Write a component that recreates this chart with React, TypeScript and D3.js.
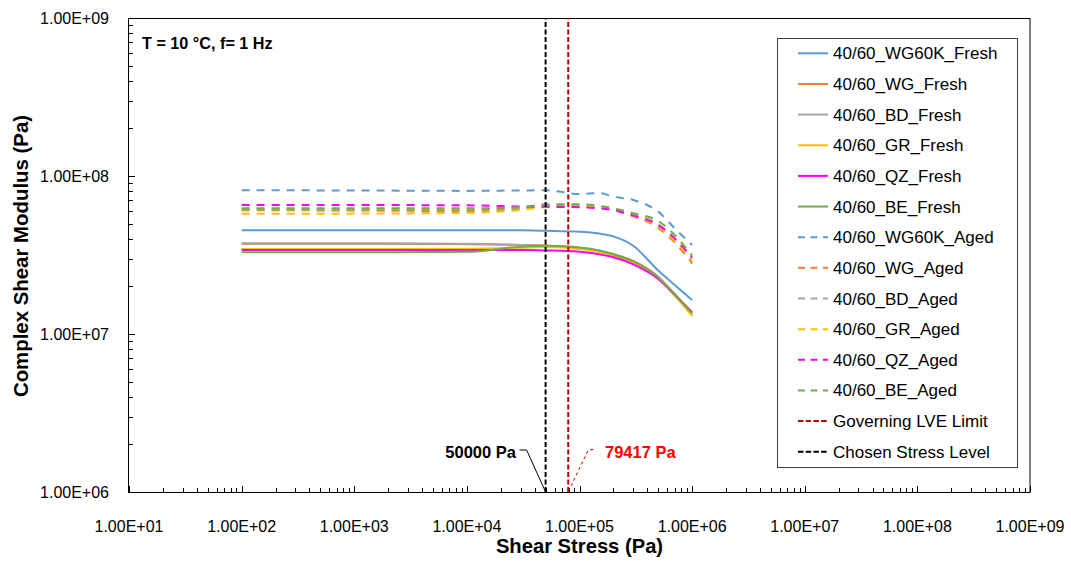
import React from "react";
import * as d3 from "d3";

const stress = [100, 1000, 10000, 30000, 50000, 100000, 150000, 200000, 300000, 500000, 700000, 1000000];

const wg60kFresh = [4.53e7, 4.53e7, 4.53e7, 4.53e7, 4.5e7, 4.44e7, 4.32e7, 4.15e7, 3.62e7, 2.52e7, 2.04e7, 1.64e7];
const wgFresh = [3.73e7, 3.73e7, 3.7e7, 3.66e7, 3.63e7, 3.52e7, 3.36e7, 3.2e7, 2.9e7, 2.3e7, 1.78e7, 1.32e7];
const bdFresh = [3.75e7, 3.75e7, 3.72e7, 3.66e7, 3.61e7, 3.49e7, 3.33e7, 3.16e7, 2.87e7, 2.29e7, 1.79e7, 1.36e7];
const grFresh = [3.45e7, 3.45e7, 3.47e7, 3.52e7, 3.55e7, 3.45e7, 3.3e7, 3.12e7, 2.82e7, 2.25e7, 1.75e7, 1.3e7];
const qzFresh = [3.4e7, 3.4e7, 3.4e7, 3.4e7, 3.38e7, 3.32e7, 3.2e7, 3.06e7, 2.76e7, 2.23e7, 1.77e7, 1.37e7];
const beFresh = [3.29e7, 3.29e7, 3.31e7, 3.57e7, 3.62e7, 3.53e7, 3.38e7, 3.2e7, 2.88e7, 2.28e7, 1.78e7, 1.35e7];

const wg60kAged = [8.12e7, 8.1e7, 8.05e7, 8.1e7, 8.12e7, 7.7e7, 7.78e7, 7.4e7, 7.05e7, 5.95e7, 4.67e7, 3.66e7];
const wgAged = [6.07e7, 6.05e7, 6.0e7, 6.2e7, 6.4e7, 6.4e7, 6.3e7, 6.1e7, 5.55e7, 4.7e7, 3.8e7, 2.8e7];
const bdAged = [6.15e7, 6.15e7, 6.15e7, 6.3e7, 6.5e7, 6.48e7, 6.38e7, 6.18e7, 5.7e7, 4.95e7, 4.0e7, 3.0e7];
const grAged = [5.77e7, 5.78e7, 5.85e7, 6.1e7, 6.35e7, 6.4e7, 6.3e7, 6.1e7, 5.58e7, 4.8e7, 3.9e7, 2.9e7];
const qzAged = [6.55e7, 6.55e7, 6.52e7, 6.42e7, 6.39e7, 6.34e7, 6.24e7, 6.09e7, 5.61e7, 4.9e7, 4.03e7, 3.05e7];
const beAged = [6.24e7, 6.24e7, 6.24e7, 6.34e7, 6.62e7, 6.62e7, 6.46e7, 6.24e7, 5.81e7, 5.19e7, 4.23e7, 3.12e7];

const seriesNames = [
  "40/60_WG60K_Fresh", "40/60_WG_Fresh", "40/60_BD_Fresh", "40/60_GR_Fresh", "40/60_QZ_Fresh", "40/60_BE_Fresh",
  "40/60_WG60K_Aged", "40/60_WG_Aged", "40/60_BD_Aged", "40/60_GR_Aged", "40/60_QZ_Aged", "40/60_BE_Aged",
];
const seriesValues = [wg60kFresh, wgFresh, bdFresh, grFresh, qzFresh, beFresh, wg60kAged, wgAged, bdAged, grAged, qzAged, beAged];
const seriesColors = ["#5B9BD5", "#ED7D31", "#A5A5A5", "#FFC000", "#FF00FF", "#70AD47", "#5B9BD5", "#ED7D31", "#A5A5A5", "#FFC000", "#FF00FF", "#70AD47"];

const lveLimit = 79417;
const chosenStress = 50000;
const limitNames = ["Governing LVE Limit", "Chosen Stress Level"];
const limitColors = ["#C00000", "#000000"];

const xDomain = [1e1, 1e9];
const yDomain = [1e6, 1e9];

const FONT = "'Liberation Sans', Arial, sans-serif";

const fmtExp = (v: number) => {
  const e = Math.round(Math.log10(v));
  return `1.00E${e >= 0 ? "+" : "-"}${String(Math.abs(e)).padStart(2, "0")}`;
};

export default function App() {
  const left = 129, right = 1030, top = 18, bottom = 492;
  const x = d3.scaleLog().domain(xDomain).range([left, right]);
  const y = d3.scaleLog().domain(yDomain).range([bottom, top]);

  const xMajor = d3.range(1, 10).map((e) => Math.pow(10, e));
  const yMajor = d3.range(6, 10).map((e) => Math.pow(10, e));
  const minorOf = (majors: number[]) =>
    majors.slice(0, -1).flatMap((m) => d3.range(2, 10).map((k) => m * k));
  const xMinor = minorOf(xMajor);
  const yMinor = minorOf(yMajor);

  const line = d3
    .line<[number, number]>()
    .x((d) => x(d[0]))
    .y((d) => y(d[1]))
    .curve(d3.curveMonotoneX);

  const legendX = 777.5, legendY = 38.5, legendW = 240, legendH = 429;
  const rowH = 30.65;
  const row0 = 53.3;
  const legendItems = [
    ...seriesNames.map((n, i) => ({ name: n, color: seriesColors[i], kind: i < 6 ? "solid" : "dash" })),
    ...limitNames.map((n, i) => ({ name: n, color: limitColors[i], kind: "sys" })),
  ];

  const xChosen = x(chosenStress);
  const xLve = x(lveLimit);
  const yBase = y(yDomain[0]);

  return (
    <svg width={1071} height={562} style={{ position: "absolute", left: 0, top: 0, background: "#fff" }} fontFamily={FONT}>
      <rect x={0} y={0} width={1071} height={562} fill="#fff" />
      {/* plot border */}
      <rect x={left - 0.5} y={top + 0.5} width={right - left + 0.5} height={bottom - top} fill="none" stroke="#000" strokeWidth={1} />

      {/* x ticks */}
      {xMajor.map((v) => (
        <line key={"xM" + v} x1={Math.round(x(v)) + 0.5} x2={Math.round(x(v)) + 0.5} y1={bottom} y2={bottom - 6} stroke="#000" />
      ))}
      {xMinor.map((v) => (
        <line key={"xm" + v} x1={Math.round(x(v)) + 0.5} x2={Math.round(x(v)) + 0.5} y1={bottom} y2={bottom - 4} stroke="#000" />
      ))}
      {yMajor.map((v) => (
        <line key={"yM" + v} x1={left} x2={left + 6} y1={Math.round(y(v)) + 0.5} y2={Math.round(y(v)) + 0.5} stroke="#000" />
      ))}
      {yMinor.map((v) => (
        <line key={"ym" + v} x1={left} x2={left + 4} y1={Math.round(y(v)) + 0.5} y2={Math.round(y(v)) + 0.5} stroke="#000" />
      ))}

      {/* tick labels */}
      {xMajor.map((v) => (
        <text key={"xl" + v} x={x(v)} y={532} textAnchor="middle" fontSize={16} fill="#000">
          {fmtExp(v)}
        </text>
      ))}
      {yMajor.map((v) => (
        <text key={"yl" + v} x={109} y={y(v) + 5.8} textAnchor="end" fontSize={16} fill="#000">
          {fmtExp(v)}
        </text>
      ))}

      {/* series */}
      {seriesValues.map((vals, i) => (
        <path
          key={"s" + i}
          d={line(stress.map((s, j) => [s, vals[j]] as [number, number])) || ""}
          fill="none"
          stroke={seriesColors[i]}
          strokeWidth={2}
          strokeDasharray={i < 6 ? undefined : "8,7"}
        />
      ))}

      {/* vertical limit lines */}
      <line x1={xLve} x2={xLve} y1={y(yDomain[0])} y2={y(yDomain[1])} stroke={limitColors[0]} strokeWidth={2} strokeDasharray="5,2.5" />
      <line x1={xChosen} x2={xChosen} y1={y(yDomain[0])} y2={y(yDomain[1])} stroke={limitColors[1]} strokeWidth={2} strokeDasharray="5,2.5" />

      {/* annotations */}
      <polyline points={`${xChosen - 26},450 ${xChosen - 19},450 ${xChosen},${yBase}`} fill="none" stroke="#000" strokeWidth={1} />
      <text x={516} y={457.5} textAnchor="end" fontSize={16.5} fontWeight="bold" fill="#000">
        {`${chosenStress} Pa`}
      </text>
      <polyline points={`${xLve + 25},449.5 ${xLve + 20},450 ${xLve},${yBase}`} fill="none" stroke="#C00000" strokeWidth={1} strokeDasharray="3,3" />
      <text x={605} y={457.5} textAnchor="start" fontSize={16.5} fontWeight="bold" fill="#FF0000">
        {`${lveLimit} Pa`}
      </text>

      {/* condition label */}
      <text x={142} y={49} fontSize={16.2} fontWeight="bold" fill="#000">
        T = 10 °C, f= 1 Hz
      </text>

      {/* axis titles */}
      <text x={(left + right) / 2} y={553} textAnchor="middle" fontSize={20.2} fontWeight="bold" fill="#000">
        Shear Stress (Pa)
      </text>
      <text transform={`translate(28,256) rotate(-90)`} textAnchor="middle" fontSize={20.4} fontWeight="bold" fill="#000">
        Complex Shear Modulus (Pa)
      </text>

      {/* legend */}
      <rect x={legendX} y={legendY} width={legendW} height={legendH} fill="#fff" stroke="#404040" strokeWidth={1} />
      {legendItems.map((it, i) => {
        const cy = row0 + i * rowH;
        const dash = it.kind === "solid" ? undefined : it.kind === "dash" ? "7,5.5" : "5.5,2.2";
        return (
          <g key={"lg" + i}>
            <line x1={798} x2={828} y1={cy} y2={cy} stroke={it.color} strokeWidth={2} strokeDasharray={dash} />
            <text x={833} y={cy + 6} fontSize={17} fill="#000">
              {it.name}
            </text>
          </g>
        );
      })}
    </svg>
  );
}
